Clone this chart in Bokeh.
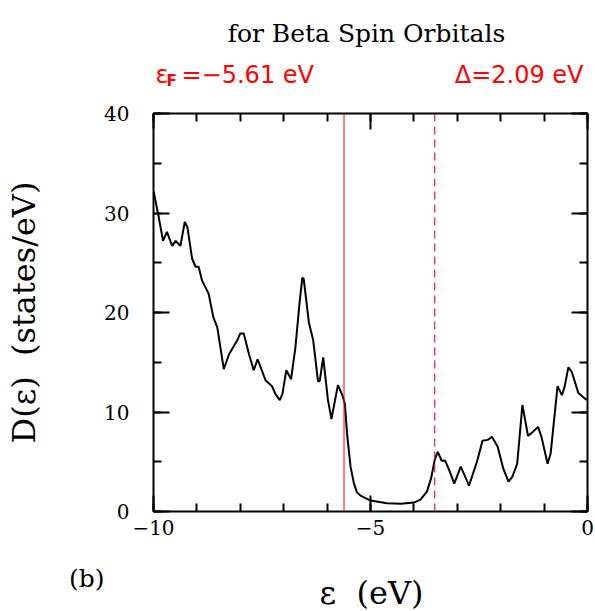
from bokeh.plotting import figure
from bokeh.layouts import column
from bokeh.models import Range1d, FixedTicker, LinearAxis, Span, Label, CustomLabelingPolicy
from bokeh.embed import file_html
from bokeh.resources import INLINE

# ---- data ----
energy = [-10.0, -9.98, -9.88, -9.78, -9.69, -9.57, -9.49, -9.38, -9.28, -9.22, -9.11, -9.03,
          -8.96, -8.88, -8.73, -8.62, -8.53, -8.38, -8.26, -8.07, -8.00, -7.92, -7.80,
          -7.69, -7.60, -7.42, -7.27, -7.19, -7.09, -7.03, -6.94, -6.83, -6.73, -6.63,
          -6.57, -6.54, -6.42, -6.32, -6.21, -6.17, -6.09, -5.98, -5.90, -5.75, -5.65,
          -5.59, -5.54, -5.46, -5.38, -5.31, -5.23, -5.00, -4.62, -4.30, -4.00, -3.85,
          -3.70, -3.60, -3.52, -3.45, -3.36, -3.28, -3.20, -3.07, -2.92, -2.73, -2.54,
          -2.42, -2.30, -2.20, -2.07, -1.94, -1.82, -1.73, -1.62, -1.50, -1.37, -1.26,
          -1.14, -1.06, -0.92, -0.85, -0.69, -0.59, -0.53, -0.44, -0.36, -0.21, -0.02]
dos = [32.2, 31.8, 29.6, 27.2, 28.1, 26.7, 27.2, 26.7, 29.1, 28.6, 25.4, 24.6,
       24.6, 23.2, 21.9, 19.5, 18.5, 14.3, 15.8, 17.2, 17.9, 17.9, 15.8,
       14.2, 15.3, 13.2, 12.6, 11.8, 11.2, 11.8, 14.2, 13.3, 16.5, 21.2,
       23.5, 23.4, 19.0, 17.2, 13.1, 13.1, 15.5, 11.2, 9.3, 12.7, 11.7,
       10.8, 7.8, 4.5, 2.8, 1.9, 1.6, 1.1, 0.83, 0.77, 0.9, 1.2,
       2.0, 3.4, 5.2, 6.0, 5.1, 5.1, 4.3, 2.8, 4.5, 2.6, 5.1,
       7.1, 7.2, 7.5, 6.5, 4.3, 3.0, 3.5, 4.8, 10.7, 7.6, 8.0,
       8.5, 7.5, 4.8, 5.8, 12.6, 11.7, 12.5, 14.5, 14.0, 11.9, 11.2]

fermi_level = -5.61
gap = 2.09

x_ticks = [-10, -5, 0]
x_tick_labels = ["\u221210", "\u22125", "0"]
x_minor = [-10, -9, -8, -7, -6, -5, -4, -3, -2, -1, 0]
y_ticks = [0, 10, 20, 30, 40]
y_tick_labels = ["0", "10", "20", "30", "40"]
y_minor = [0, 5, 10, 15, 20, 25, 30, 35, 40]

title_text = "for Beta Spin Orbitals"
ef_text = "=\u2212%.2f eV" % abs(fermi_level)
gap_text = "\u0394=%.2f eV" % gap
y_label = "D(\u03b5) \u00a0(states/eV)"
x_label = "\u03b5 \u00a0(eV)"
panel_tag = "(b)"

# ---- layout sizes ----
W = 595
FRAME_L = 153
TOP_H, MAIN_H, BOT_H = 90, 470, 51


def strip(height):
    f = figure(width=W, height=height, output_backend="svg", toolbar_location=None,
               title_location=None, x_axis_type=None, y_axis_type=None,
               x_range=Range1d(0, W), y_range=Range1d(height, 0),
               min_border_left=FRAME_L, min_border_right=0, min_border_top=0,
               min_border_bottom=0)
    f.outline_line_color = None
    f.grid.visible = False
    return f


def lab(fig, text, px, py, size, color="black", font="DejaVu Serif", align="left",
        baseline="alphabetic", style="normal"):
    fig.add_layout(Label(x=px, y=py, x_units="canvas", y_units="canvas", text=text,
                         text_font=font, text_font_size=size, text_color=color,
                         text_align=align, text_baseline=baseline, text_font_style=style))


# top strip: title and red annotations
top_fig = strip(TOP_H)
lab(top_fig, title_text, 366, 33, "25px", align="center")
lab(top_fig, "\u03b5", 155, 74, "24px", color="red", font="DejaVu Sans")
lab(top_fig, "F", 166, 80, "15px", color="red", font="DejaVu Sans", style="bold")
lab(top_fig, ef_text, 181, 74, "24px", color="red", font="DejaVu Sans")
lab(top_fig, gap_text, 583, 74, "24px", color="red", font="DejaVu Sans", align="right")

# main plot
p = figure(width=W, height=MAIN_H, output_backend="svg", toolbar_location=None,
           title_location=None,
           x_range=Range1d(-10, 0), y_range=Range1d(0, 40),
           min_border_left=FRAME_L, min_border_right=8,
           min_border_top=113 - TOP_H, min_border_bottom=TOP_H + MAIN_H - 511)
p.outline_line_color = None
p.xgrid.visible = False
p.ygrid.visible = False

xt = FixedTicker(ticks=x_ticks, minor_ticks=x_minor)
yt = FixedTicker(ticks=y_ticks, minor_ticks=y_minor)

no_labels = CustomLabelingPolicy(code="""
const r = indices.clone();
for (let i = 0; i < r.size; i++) { r.unset(i) }
return r
""")


def style_axis(ax, ticker, labels=None, standoff=0):
    ax.ticker = ticker
    ax.major_tick_in = 16
    ax.major_tick_out = 0
    ax.minor_tick_in = 8
    ax.minor_tick_out = 0
    ax.axis_line_width = 2
    ax.major_tick_line_width = 2
    ax.minor_tick_line_width = 2
    ax.axis_line_color = "black"
    ax.major_tick_line_color = "black"
    ax.minor_tick_line_color = "black"
    if labels is None:
        ax.major_label_policy = no_labels
        ax.major_label_standoff = 0
        ax.major_label_text_font_size = "1px"
    else:
        ax.major_label_overrides = dict(zip(ticker.ticks, labels))
        ax.major_label_text_font = "DejaVu Serif"
        ax.major_label_text_font_size = "20px"
        ax.major_label_text_color = "black"
        ax.major_label_standoff = standoff


style_axis(p.xaxis[0], xt, x_tick_labels, 8)
style_axis(p.yaxis[0], yt, y_tick_labels, 24)
p.yaxis[0].axis_label = y_label
p.yaxis[0].axis_label_text_font = "DejaVu Serif"
p.yaxis[0].axis_label_text_font_size = "32px"
p.yaxis[0].axis_label_text_font_style = "normal"
p.yaxis[0].axis_label_text_color = "black"
p.yaxis[0].axis_label_standoff = 58

top = LinearAxis()
right = LinearAxis()
style_axis(top, xt)
style_axis(right, yt)
p.add_layout(top, "above")
p.add_layout(right, "right")

p.line(energy, dos, line_color="black", line_width=2)

p.add_layout(Span(location=fermi_level, dimension="height", line_color="red", line_width=1))
p.add_layout(Span(location=fermi_level + gap, dimension="height", line_color="#d8203a",
                  line_width=1.2, line_dash="8 5"))

# bottom strip: panel tag (as a label of a bare left axis) and x label
bot_fig = strip(BOT_H)
TAG_Y = 18
tag_axis = LinearAxis(ticker=FixedTicker(ticks=[TAG_Y], minor_ticks=[]),
                      major_label_overrides={TAG_Y: panel_tag},
                      axis_line_color=None, major_tick_line_color=None,
                      minor_tick_line_color=None, major_tick_in=0, major_tick_out=0,
                      minor_tick_in=0, minor_tick_out=0,
                      major_label_text_font="DejaVu Serif",
                      major_label_text_font_size="25px",
                      major_label_text_color="black",
                      major_label_standoff=FRAME_L - 104)
bot_fig.add_layout(tag_axis, "left")
lab(bot_fig, x_label, 371, 32, "32px", align="center", baseline="middle")

layout = column(top_fig, p, bot_fig, spacing=0)
open("out.html", "w").write(file_html(layout, INLINE))
